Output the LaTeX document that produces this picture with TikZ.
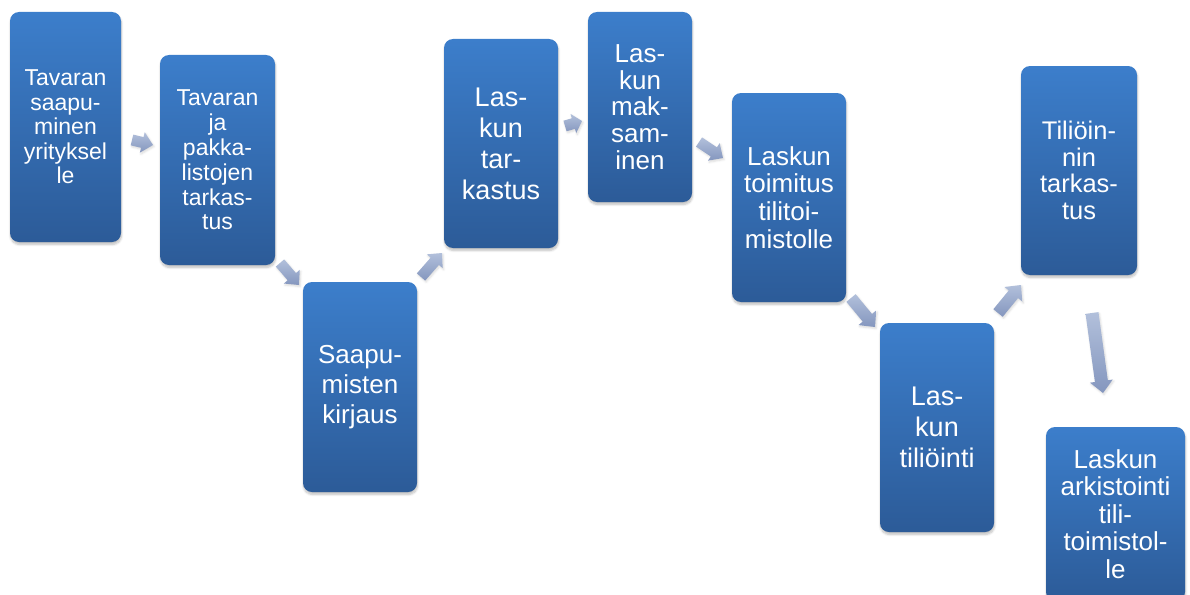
\documentclass[tikz,border=0pt]{standalone}
\usepackage{fontspec}
\setmainfont{Liberation Sans}
\usetikzlibrary{calc,shadows.blur}
\definecolor{boxtop}{RGB}{60,126,203}
\definecolor{boxbot}{RGB}{44,91,152}
\definecolor{arrtop}{RGB}{178,192,219}
\definecolor{arrbot}{RGB}{132,150,190}
\tikzset{
  procbox/.style={rounded corners=9pt, top color=boxtop, bottom color=boxbot,
    draw=none, text=white, align=center, inner sep=0pt,
    blur shadow={shadow xshift=0.5pt, shadow yshift=-2.5pt, shadow blur steps=6, shadow opacity=25}},
  arrowfill/.style={top color=arrtop, bottom color=arrbot, draw=none,
    blur shadow={shadow xshift=1pt, shadow yshift=-1.5pt, shadow blur steps=4, shadow opacity=15}}
}
\newcommand\fsz[2]{\fontsize{#1}{#2}\selectfont}
\newcommand\blockarr[5]{%
  \coordinate (bh) at ($(#2)!#5!(#1)$);
  \path[arrowfill] ($(#1)!#3!90:(#2)$) -- ($(bh)!#3!90:(#2)$) -- ($(bh)!#4!90:(#2)$)
    -- (#2) -- ($(bh)!#4!-90:(#2)$) -- ($(bh)!#3!-90:(#2)$) -- ($(#1)!#3!-90:(#2)$) -- cycle;}
\begin{document}
\begin{tikzpicture}[x=1pt,y=-1pt]
\useasboundingbox (0,0) rectangle (1190,594);
\clip (0,0) rectangle (1190,594);

\node[procbox, minimum width=111pt, minimum height=230pt, font=\fsz{23}{24.5}] (b1) at (65.5,127)
  {Tavaran\\saapu-\\minen\\yrityksel\\le};
\node[procbox, minimum width=115pt, minimum height=210pt, font=\fsz{23}{24.8}] (b2) at (217.5,160)
  {Tavaran\\ja\\pakka-\\listojen\\tarkas-\\tus};
\node[procbox, minimum width=114pt, minimum height=210pt, font=\fsz{26}{29.7}] (b3) at (360,387)
  {Saapu-\\misten\\kirjaus};
\node[procbox, minimum width=114pt, minimum height=209pt, font=\fsz{27}{31}] (b4) at (501,143.5)
  {Las-\\kun\\tar-\\kastus};
\node[procbox, minimum width=104pt, minimum height=190pt, font=\fsz{26}{26.6}] (b5) at (640,107)
  {Las-\\kun\\mak-\\sam-\\inen};
\node[procbox, minimum width=114pt, minimum height=209pt, font=\fsz{26}{27.8}] (b6) at (789,197.5)
  {Laskun\\toimitus\\tilitoi-\\mistolle};
\node[procbox, minimum width=114pt, minimum height=209pt, font=\fsz{27}{31}] (b7) at (937,427.5)
  {Las-\\kun\\tiliöinti};
\node[procbox, minimum width=116pt, minimum height=209pt, font=\fsz{25.5}{26.6}] (b8) at (1079,170.5)
  {Tiliöin-\\nin\\tarkas-\\tus};
\node[procbox, minimum width=139pt, minimum height=174pt, font=\fsz{26}{27.5}] (b9) at (1115.5,514)
  {Laskun\\arkistointi\\tili-\\toimistol-\\le};

\coordinate (a1s) at (132,140); \coordinate (a1e) at (153,145);
\coordinate (a2s) at (280,263); \coordinate (a2e) at (299,285);
\coordinate (a3s) at (421,277); \coordinate (a3e) at (442,253);
\coordinate (a4s) at (565,126); \coordinate (a4e) at (582,121);
\coordinate (a5s) at (699,142); \coordinate (a5e) at (723,158);
\coordinate (a6s) at (851,298); \coordinate (a6e) at (875,327);
\coordinate (a7s) at (998,313); \coordinate (a7e) at (1021,285);
\coordinate (a8s) at (1092,313); \coordinate (a8e) at (1103,393);

\blockarr{a1s}{a1e}{5.5pt}{10.5pt}{11pt}
\blockarr{a2s}{a2e}{5.5pt}{10.5pt}{11pt}
\blockarr{a3s}{a3e}{5.5pt}{10.5pt}{11pt}
\blockarr{a4s}{a4e}{5.5pt}{10pt}{9pt}
\blockarr{a5s}{a5e}{5.5pt}{10.5pt}{11pt}
\blockarr{a6s}{a6e}{6pt}{11.5pt}{12pt}
\blockarr{a7s}{a7e}{6pt}{11.5pt}{12pt}
\blockarr{a8s}{a8e}{6.5pt}{11.5pt}{12pt}
\end{tikzpicture}
\end{document}
